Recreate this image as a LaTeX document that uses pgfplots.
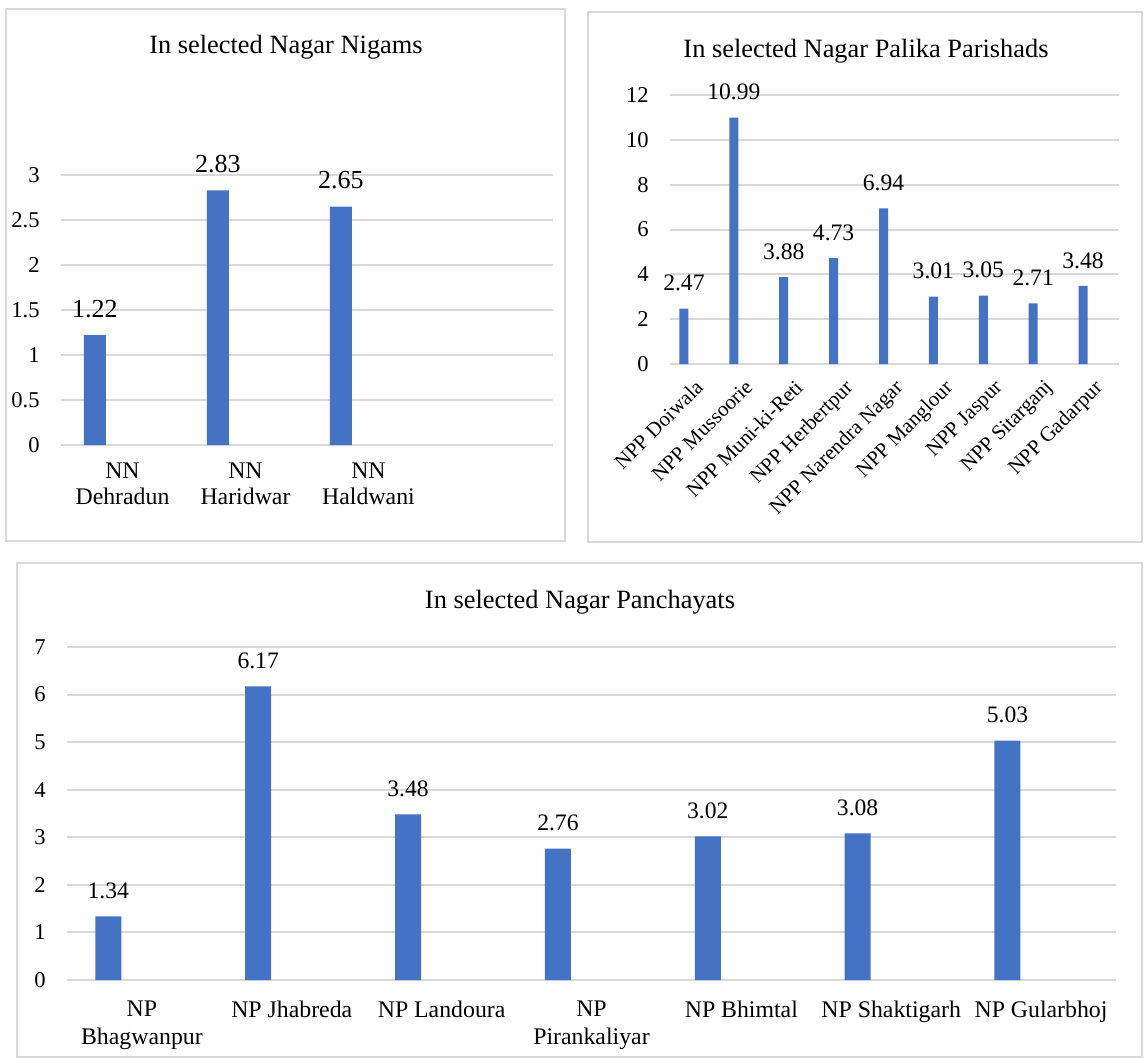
\documentclass[border=0pt]{standalone}
\usepackage{fontspec}
\setmainfont{Liberation Serif}
\usepackage{pgfplots}
\pgfplotsset{compat=1.18}
\definecolor{barblue}{HTML}{4472C4}
\definecolor{gridgray}{HTML}{D9D9D9}

% one px of the reference = 0.5pt
\pgfplotsset{
  panel/.style={
    scale only axis,
    anchor=south west,
    ybar,
    clip=false,
    axis line style={draw=none},
    major tick length=0pt,
    ymajorgrids,
    grid style={gridgray, line width=1pt},
    ymin=0,
    /pgf/number format/assume math mode=true,
    yticklabel style={font=\fontsize{11.3}{13}\selectfont, anchor=east, inner sep=0pt, xshift=-10.5pt},
    nodes near coords={\pgfmathprintnumber[fixed,fixed zerofill,precision=2]{\pgfplotspointmeta}},
    every node near coord/.append style={anchor=south, inner sep=0pt, yshift=8.5pt, text=black},
  },
}

\begin{document}
\begin{tikzpicture}
\path[use as bounding box, fill=white] (0,0) rectangle (573pt,-530pt);

% panel frames
\draw[gridgray, line width=0.9pt] (3pt,-4.5pt) rectangle (282.5pt,-270.5pt);
\draw[gridgray, line width=0.9pt] (294pt,-6pt) rectangle (571pt,-271pt);
\draw[gridgray, line width=0.9pt] (8.5pt,-281.5pt) rectangle (571pt,-528.5pt);

% titles
\node[anchor=base, font=\fontsize{13.2}{15}\selectfont] at (143pt,-27pt) {In selected Nagar Nigams};
\node[anchor=base, font=\fontsize{13.2}{15}\selectfont] at (433pt,-28.5pt) {In selected Nagar Palika Parishads};
\node[anchor=base, font=\fontsize{13.2}{15}\selectfont] at (290pt,-304pt) {In selected Nagar Panchayats};

% Nagar Nigams
\begin{axis}[panel,
  at={(30.5pt,-222.5pt)}, width=246pt, height=135pt,
  xmin=-0.5, xmax=3.5, ymax=3, ytick distance=0.5,
  xtick={0,1,2},
  xticklabels={{NN\\Dehradun},{NN\\Haridwar},{NN\\Haldwani}},
  xticklabel style={align=center, anchor=north, inner sep=0pt, yshift=-9pt,
    font=\fontsize{11.9}{13}\selectfont},
  bar width=11pt, bar shift=-13.75pt,
  every node near coord/.append style={font=\fontsize{13}{15}\selectfont},
]
\addplot[fill=barblue, draw=none] coordinates {(0,1.22) (1,2.83) (2,2.65)};
\end{axis}

% Nagar Palika Parishads
\begin{axis}[panel,
  at={(335pt,-182pt)}, width=224.5pt, height=134.5pt,
  xmin=-0.5, xmax=8.5, ymax=12, ytick distance=2,
  xtick={0,...,8},
  xticklabels={NPP Doiwala,NPP Mussoorie,NPP Muni-ki-Reti,NPP Herbertpur,NPP Narendra Nagar,NPP Manglour,NPP Jaspur,NPP Sitarganj,NPP Gadarpur},
  xticklabel style={xshift=-0.5pt, yshift=-7pt, rotate=45, anchor=north east, inner sep=0pt,
    font=\fontsize{10.5}{12}\selectfont},
  bar width=4.5pt, bar shift=-5.5pt,
  every node near coord/.append style={font=\fontsize{11.8}{14}\selectfont},
]
\addplot[fill=barblue, draw=none] coordinates {
  (0,2.47) (1,10.99) (2,3.88) (3,4.73) (4,6.94) (5,3.01) (6,3.05) (7,2.71) (8,3.48)};
\end{axis}

% Nagar Panchayats
\begin{axis}[panel,
  at={(33.5pt,-490pt)}, width=524.5pt, height=166.5pt,
  xmin=-0.5, xmax=6.5, ymax=7, ytick distance=1,
  xtick={0,...,6},
  xticklabels={{NP\\Bhagwanpur},{NP Jhabreda},{NP Landoura},{NP\\Pirankaliyar},{NP Bhimtal},{NP Shaktigarh},{NP Gularbhoj}},
  xticklabel style={align=center, anchor=north, inner sep=0pt, yshift=-10.5pt,
    font=\fontsize{11.9}{14}\selectfont},
  bar width=13pt, bar shift=-16.8pt,
  every node near coord/.append style={font=\fontsize{11.8}{14}\selectfont},
]
\addplot[fill=barblue, draw=none] coordinates {
  (0,1.34) (1,6.17) (2,3.48) (3,2.76) (4,3.02) (5,3.08) (6,5.03)};
\end{axis}
\end{tikzpicture}
\end{document}
